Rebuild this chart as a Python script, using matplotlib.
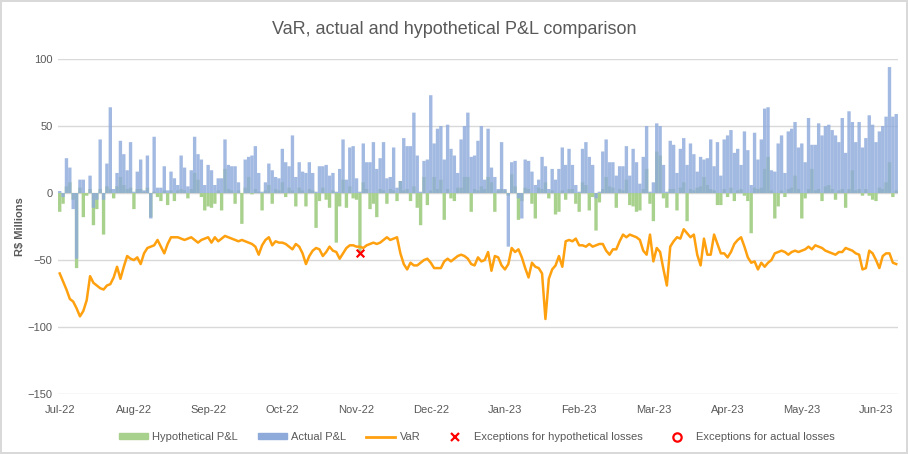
import numpy as np
import matplotlib
matplotlib.use("Agg")
import matplotlib.pyplot as plt
from matplotlib.lines import Line2D
from matplotlib.patches import Patch

plt.rcParams["font.family"] = ["Liberation Sans", "DejaVu Sans"]

# daily values, R$ millions
actual_pnl = [
    # Jul-22 / early Aug-22
    1.5, -3, 26, 19, -12, -49, 10, 10, 0, 13, -11, -5, 40, -5, 22, 64, 3, 15, 39, 29,
    17, 38, 1, 16, 25, 2, 28, -19, 42, 4, 4, 20, 2, 16,
    # Aug-22 / Sep-22
    11, 6, 28, 19, 5, 17, 42, 29, 25, 6, 21, 17, 6, 11, 11, 40, 21, 20, 20, 8,
    0, 25, 27, 28, 35, 15, 1, 8, 22, 17, 12, 11, 33, 23, 20, 43,
    # Oct-22 / Nov-22
    12, 23, 16, 15, 23, 15, 1, 20, 20, 21, 13, 15, 1, 18, 40, 10, 34, 35, 11, 1,
    37, 23, 23, 38, 18, 26, 38, 11, 12, 34, 4, 9, 41, 35, 35, 60,
    # Dec-22 / Jan-23
    28, 1, 24, 25, 73, 37, 48, 50, 25, 51, 33, 28, 15, 40, 50, 60, 27, 28, 39, 50,
    10, 48, 19, 12, 3, 38, 3, -40, 23, 24, -4, -19, 25, 24,
    # Jan-23 / Mar-23
    16, 6, 10, 27, 20, 3, 18, 10, 18, 34, 21, 33, 21, 6, 1, 33, 38, 27, 21, -4,
    1, 31, 40, 23, 23, 13, 20, 20, 35, 13, 33, 23, 7, 27, 50, 1,
    # Mar-23 / May-23
    8, 52, 50, 21, 1, 39, 36, 15, 33, 41, 21, 37, 29, 16, 27, 25, 26, 40, 20, 38,
    13, 40, 43, 47, 30, 33, 21, 46, 32, 6, 45, 25, 40, 63, 64, 17,
    # May-23 / Jun-23
    16, 37, 43, 15, 46, 48, 53, 34, 37, 23, 56, 36, 36, 52, 43, 50, 51, 47, 43, 38,
    56, 30, 61, 53, 38, 53, 34, 41, 58, 51, 38, 46, 50, 57, 94, 57, 59,
]

hypothetical_pnl = [
    -14, -8, 5, 8, -5, -56, 4, -18, -2, 3, -24, -12, 3, -31, 5, 3, -4, 5, 12, 6,
    3, 4, -12, 3, 3, 1, 4, -18, 1, -3, -6, 2, -9, 2,
    -6, 2, 3, 2, -4, 3, 15, 10, -3, -13, -10, -11, -8, 2, -13, 18, 3, 2, -8, 2,
    -23, 4, 12, -1, 3, 1, -13, 2, 6, -8, 3, 2, 8, -3, 4, 2,
    -10, 4, 2, -10, 3, 2, -26, -6, 4, -5, -11, 2, -37, -10, 10, -11, 5, -4, -5, -45,
    8, 3, -12, -8, -18, 3, 2, -8, 3, 2, -6, 9, 2, 3, -6, 5,
    -11, -24, 12, -9, 2, 12, 3, 10, -20, 3, -4, -6, 4, 4, 12, 12, -14, 3, 2, 5,
    3, 12, 8, -14, 2, 3, 2, -2, 14, 5, -20, -6, 4, 3,
    -8, -19, 4, 3, 8, -4, 2, -16, -14, 2, -5, 3, 3, -8, -14, 8, 6, -13, -3, -28,
    -7, 3, 12, 5, 4, -11, 3, 2, 10, -9, -10, -14, -13, 3, 18, -8,
    -21, 31, 28, -4, -11, 3, 3, -13, 4, 8, -21, 3, 2, 4, 5, 12, 6, 3, 2, -9,
    -9, 3, -3, 4, -6, 2, 3, -2, -6, -30, 4, 3, 4, 18, 27, 2,
    -19, -10, 2, -3, 3, 4, 13, 3, -19, -4, 3, 18, 2, 3, -6, 5, 6, 3, -5, 2,
    3, -11, 3, 17, 2, 3, -2, 3, -2, -5, -6, 4, 3, 8, 23, -3, 2,
]

var_values = [
    -60, -66, -72, -79, -81, -86, -92, -88, -80, -62, -67, -69, -71, -72, -69, -68, -63, -55, -64, -55,
    -47, -49, -50, -48, -53, -45, -41, -40, -39, -35, -40, -45, -38, -33,
    -33, -33, -34, -35, -34, -33, -35, -37, -35, -34, -33, -37, -33, -36, -34, -32, -33, -34, -35, -36,
    -35, -36, -37, -38, -40, -46, -39, -35, -33, -39, -36, -37, -37, -38, -40, -42,
    -38, -40, -45, -53, -47, -43, -41, -42, -47, -44, -40, -43, -44, -49, -45, -41, -39, -39, -40, -40,
    -41, -39, -38, -37, -38, -37, -35, -33, -35, -34, -33, -45, -53, -57, -52, -54,
    -54, -52, -50, -49, -52, -56, -56, -56, -51, -49, -51, -49, -47, -46, -47, -49, -53, -54, -48, -51,
    -50, -44, -58, -47, -48, -54, -57, -53, -41, -44, -42, -48, -56, -63,
    -52, -55, -56, -60, -94, -64, -57, -54, -47, -55, -36, -35, -36, -34, -39, -39, -40, -38, -40, -39,
    -38, -38, -43, -46, -42, -42, -36, -31, -33, -31, -32, -33, -35, -43, -46, -31,
    -51, -41, -44, -57, -69, -40, -36, -33, -34, -27, -30, -33, -31, -46, -54, -34, -46, -46, -31, -38,
    -45, -45, -48, -44, -38, -35, -33, -40, -48, -52, -51, -57, -52, -55, -52, -50,
    -45, -44, -43, -44, -46, -44, -43, -44, -43, -42, -40, -42, -39, -40, -41, -43, -44, -45, -46, -44,
    -44, -41, -42, -43, -45, -46, -57, -56, -43, -45, -50, -56, -47, -45, -45, -52, -53,
]

month_labels = ["Jul-22", "Aug-22", "Sep-22", "Oct-22", "Nov-22", "Dec-22",
                "Jan-23", "Feb-23", "Mar-23", "Apr-23", "May-23", "Jun-23"]
label_interval = 22

n = min(len(actual_pnl), len(hypothetical_pnl), len(var_values))
actual = np.array(actual_pnl[:n], dtype=float)
hypo = np.array(hypothetical_pnl[:n], dtype=float)
var = np.array(var_values[:n], dtype=float)
x = np.arange(n)

hypo_exc = hypo < var
actual_exc = actual < var

fig = plt.figure(figsize=(9.08, 4.54), dpi=100)
fig.patch.set_edgecolor("#d9d9d9")
fig.patch.set_linewidth(1.5)
ax = fig.add_axes([0.0639, 0.132, 0.925, 0.738])

grid_c = "#d9d9d9"
txt_c = "#595959"

hb = ax.bar(x, hypo, width=1.0, color="#a9d18e", lw=0, zorder=2)
ab = ax.bar(x, actual, width=1.0, color="#8eaadb", alpha=0.82, lw=0, zorder=3)
for p in list(hb) + list(ab):
    p.set_snap(False)
ax.plot(x, var, color="#ffa00f", lw=1.8, zorder=4)
ax.scatter(x[hypo_exc], hypo[hypo_exc], marker="x", color="#ff0000", s=30, lw=1.6, zorder=5)
ax.scatter(x[actual_exc], actual[actual_exc], marker="o", facecolor="none",
           edgecolor="#ff0000", s=30, lw=1.6, zorder=5)

ax.set_ylim(-150, 100)
ax.set_yticks([-150, -100, -50, 0, 50, 100])
ax.set_xlim(-0.5, n - 0.5)
ax.set_xticks(np.arange(len(month_labels)) * label_interval)
ax.set_xticklabels(month_labels)
ax.tick_params(axis="both", length=0, labelsize=8, colors=txt_c, pad=8)
ax.tick_params(axis="y", pad=4)
ax.yaxis.grid(True, color=grid_c, lw=1, zorder=0)
for s in ax.spines.values():
    s.set_visible(False)

ax.set_ylabel("R$ Millions", fontsize=8, fontweight="bold", color=txt_c, labelpad=2)
fig.text(0.5, 0.935, "VaR, actual and hypothetical P&L comparison",
         ha="center", va="center", fontsize=13, color=txt_c)

handles = [
    Patch(color="#a9d18e", label="Hypothetical P&L"),
    Patch(color="#8eaadb", label="Actual P&L"),
    Line2D([], [], color="#ffa00f", lw=2, label="VaR"),
    Line2D([], [], marker="x", color="#ff0000", ls="none", markersize=6, mew=1.6,
           label="Exceptions for hypothetical losses"),
    Line2D([], [], marker="o", markerfacecolor="none", markeredgecolor="#ff0000",
           ls="none", markersize=6, mew=1.6, label="Exceptions for actual losses"),
]
leg = fig.legend(handles=handles, loc="center", bbox_to_anchor=(0.525, 0.037), ncol=5,
                 frameon=False, fontsize=8, handlelength=2.6, handleheight=0.5,
                 handletextpad=0.4, columnspacing=1.8)
for t in leg.get_texts():
    t.set_color(txt_c)

fig.savefig("out.png", dpi=100)
